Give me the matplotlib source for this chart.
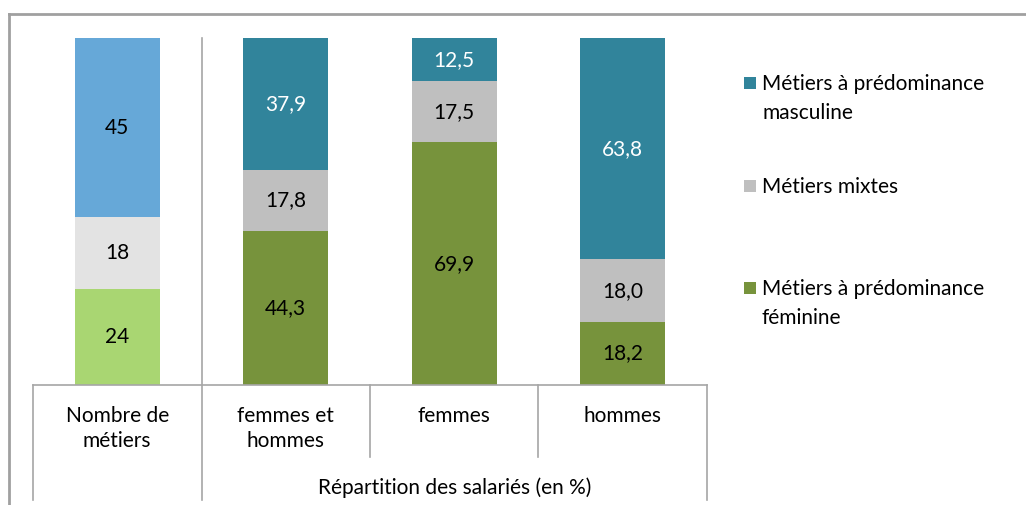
import matplotlib
matplotlib.use("Agg")
import matplotlib.pyplot as plt
from matplotlib.lines import Line2D
from matplotlib.patches import Rectangle

# ---------------------------------------------------------------------------
# Data
# ---------------------------------------------------------------------------
categories = ["Nombre de\nmétiers", "femmes et\nhommes", "femmes", "hommes"]
group_label = "Répartition des salariés (en %)"

# first column is a count of occupations, the others are % of employees
feminine = [24, 44.3, 69.9, 18.2]
mixed = [18, 17.8, 17.5, 18.0]
masculine = [45, 37.9, 12.5, 63.8]
is_count = [True, False, False, False]

series_names = ["Métiers à prédominance\nmasculine", "Métiers mixtes",
                "Métiers à prédominance\nféminine"]

# colours: (count column, percent columns)
COL_FEM = ("#A9D672", "#77933C")
COL_MIX = ("#E3E3E3", "#BFBFBF")
COL_MAS = ("#66A8D8", "#31849B")

W, H = 1026, 505
FS = 15
plt.rcParams["font.family"] = ["Lato", "DejaVu Sans"]


def fx(px):
    return px / W


def fy(py):
    return 1 - py / H


def fmt(v, count):
    return "%d" % v if count else ("%.1f" % v).replace(".", ",")


fig = plt.figure(figsize=(W / 100, H / 100), dpi=100)
ax = fig.add_axes([fx(33), fy(385), fx(707) - fx(33), fy(38) - fy(385)])

for i in range(len(categories)):
    total = feminine[i] + mixed[i] + masculine[i]
    k = 0 if is_count[i] else 1
    vals = [feminine[i], mixed[i], masculine[i]]
    cols = [COL_FEM[k], COL_MIX[k], COL_MAS[k]]
    bottom = 0
    for j, (v, c) in enumerate(zip(vals, cols)):
        h = v / total * 100
        ax.bar(i, h, bottom=bottom, width=0.505, color=c, linewidth=0)
        txt_col = "white" if (j == 2 and not is_count[i]) else "black"
        ax.text(i, bottom + h / 2, fmt(v, is_count[i]), ha="center",
                va="center", fontsize=FS, color=txt_col)
        bottom += h

ax.set_xlim(-0.5, 3.5)
ax.set_ylim(0, 100)
ax.set_xticks([])
ax.set_yticks([])
for s in ["top", "right", "left"]:
    ax.spines[s].set_visible(False)
ax.spines["bottom"].set_color("#A6A6A6")
ax.spines["bottom"].set_linewidth(1.2)

# category separators
line_kw = dict(color="#A6A6A6", linewidth=1.2)
fig.add_artist(Line2D([fx(202), fx(202)], [fy(38), fy(500)], **line_kw))
for x, y2 in [(33, 500), (370, 457), (538, 457), (707, 500)]:
    fig.add_artist(Line2D([fx(x), fx(x)], [fy(385), fy(y2)], **line_kw))

# category labels
for i, lab in enumerate(categories):
    xc = 33 + (i + 0.5) * (707 - 33) / 4
    fig.text(fx(xc), fy(406), lab, ha="center", va="top", fontsize=FS,
             linespacing=1.32)
fig.text(fx((202 + 707) / 2), fy(488), group_label, ha="center",
         va="center", fontsize=FS)

# legend
leg_y = [83, 186, 288]
leg_cols = [COL_MAS[1], COL_MIX[1], COL_FEM[1]]
for y, c, name in zip(leg_y, leg_cols, series_names):
    fig.add_artist(Rectangle((fx(744), fy(y + 6)), fx(12), fy(0) - fy(12),
                             transform=fig.transFigure, color=c, lw=0))
    fig.text(fx(762), fy(y - 9), name, ha="left", va="top", fontsize=FS,
             linespacing=1.55)

# outer frame
frame_kw = dict(color="#A0A0A0", linewidth=2)
fig.add_artist(Line2D([fx(9), fx(9)], [fy(14), fy(505)], **frame_kw))
fig.add_artist(Line2D([fx(9), fx(1026)], [fy(14), fy(14)], **frame_kw))

fig.savefig("out.png", dpi=100)
